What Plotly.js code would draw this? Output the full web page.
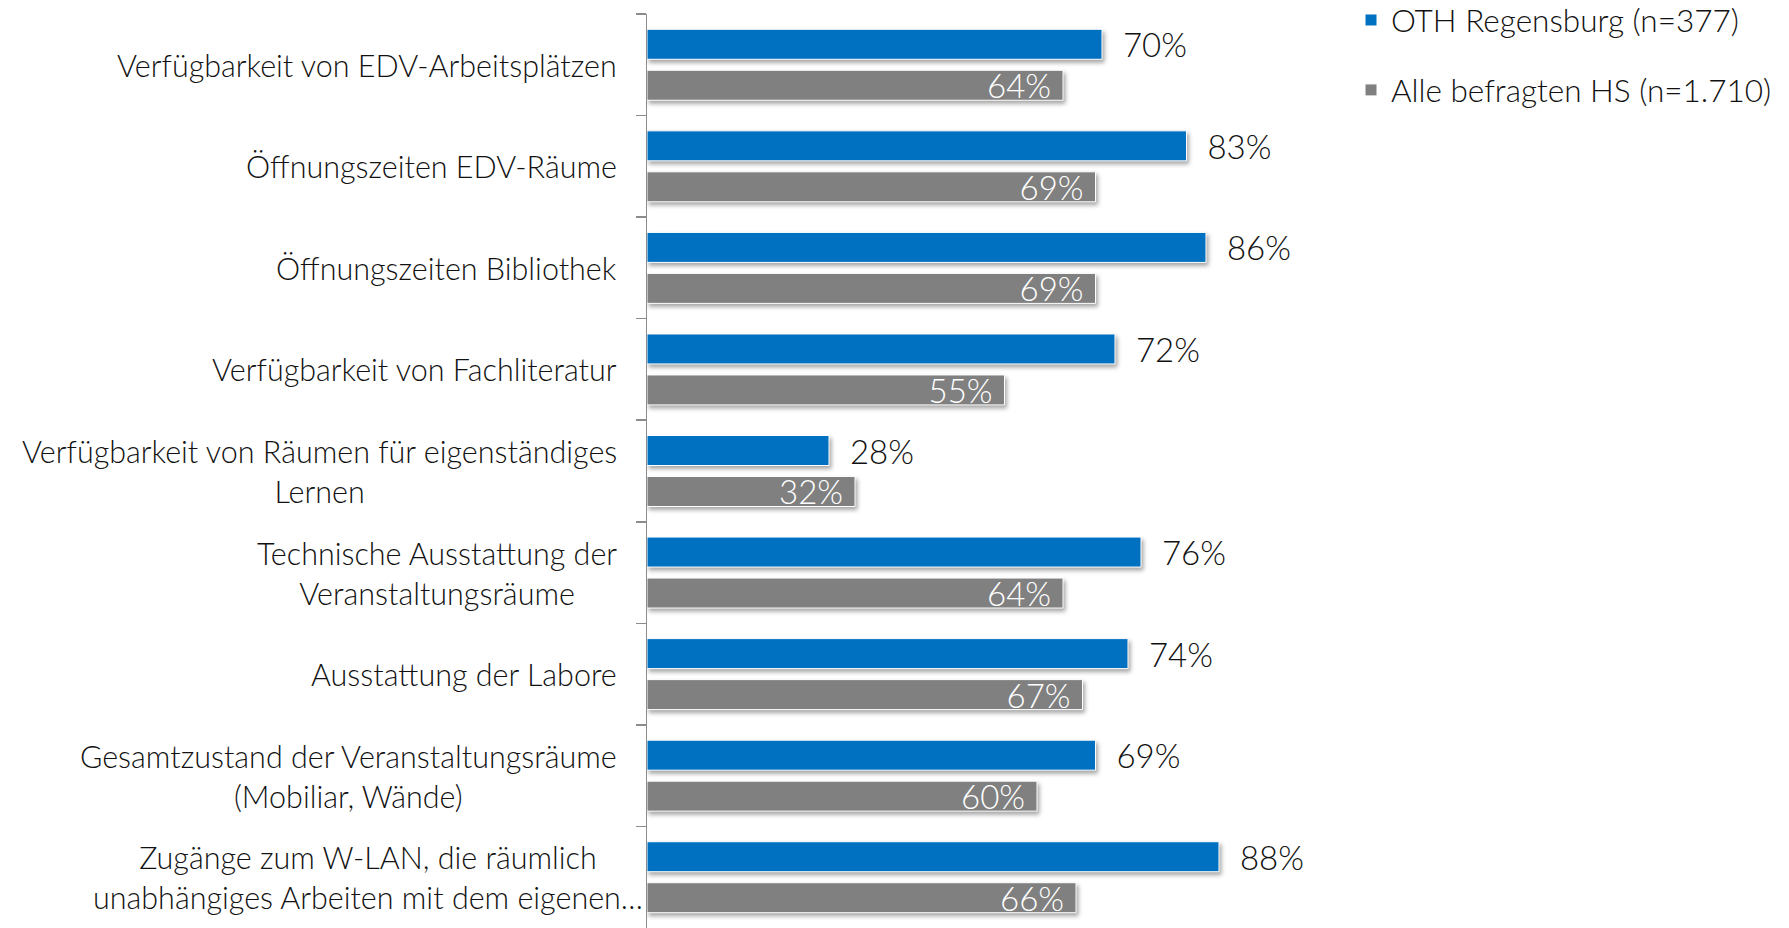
<!DOCTYPE html>
<html>
<head>
<meta charset="utf-8">
<script src="https://cdn.plot.ly/plotly-3.0.1.min.js"></script>
<style>
html,body{margin:0;padding:0;background:#fff;}
#chart{width:1789px;height:928px;}
#chart .bars path{filter:drop-shadow(2px 3px 2px rgba(0,0,0,0.35));}
#chart g.legend{translate:0 -7px;}
</style>
</head>
<body>
<div id="chart"></div>
<script>
const categories = [
  "Verfügbarkeit von EDV-Arbeitsplätzen",
  "Öffnungszeiten EDV-Räume",
  "Öffnungszeiten Bibliothek",
  "Verfügbarkeit von Fachliteratur",
  "Verfügbarkeit von Räumen für eigenständiges<br>Lernen",
  "Technische Ausstattung der<br>Veranstaltungsräume",
  "Ausstattung der Labore",
  "Gesamtzustand der Veranstaltungsräume<br>(Mobiliar, Wände)",
  "Zugänge zum W-LAN, die räumlich<br>unabhängiges Arbeiten mit dem eigenen…"
];
const othValues = [70, 83, 86, 72, 28, 76, 74, 69, 88];
const alleValues = [64, 69, 69, 55, 32, 64, 67, 60, 66];
const seriesNames = ["OTH Regensburg (n=377)", "Alle befragten HS (n=1.710)"];

const FONT = "Lato, 'Liberation Sans', sans-serif";
const NB = "\u00a0";

const traces = [
  {
    type: "bar", orientation: "h", name: seriesNames[0],
    x: othValues, y: categories,
    marker: {color: "#0070C0", line: {color: "#ffffff", width: 1}},
    texttemplate: NB + NB + "%{x}%", textposition: "outside",
    constraintext: "none",
    outsidetextfont: {color: "#111111", size: 33, family: FONT, weight: 300},
    cliponaxis: false, legendgroup: "a", hoverinfo: "skip"
  },
  {
    type: "bar", orientation: "h", name: seriesNames[1],
    x: alleValues, y: categories,
    marker: {color: "#808080", line: {color: "#ffffff", width: 1}},
    texttemplate: "%{x}%" + NB, textposition: "inside", insidetextanchor: "end",
    constraintext: "none",
    insidetextfont: {color: "#ffffff", size: 33, family: FONT, weight: 300},
    cliponaxis: false, legendgroup: "b", hoverinfo: "skip"
  }
];

const annotations = categories.map((c, i) => ({
  xref: "paper", x: 0, xanchor: "right", xshift: i === categories.length - 1 ? -2 : -28,
  yref: "y", y: c, yanchor: "middle",
  text: c, showarrow: false, align: "center",
  font: {size: 30.5, color: "#111111", family: FONT, weight: 300}
}));

const layout = {
  width: 1789, height: 928,
  margin: {l: 647, r: 492, t: 14, b: 0, pad: 0},
  paper_bgcolor: "#ffffff", plot_bgcolor: "#ffffff",
  font: {family: FONT, size: 30, color: "#111111", weight: 300},
  barmode: "group", bargap: 0.193, bargroupgap: 0.268,
  showlegend: true,
  legend: {
    xref: "container", yref: "container",
    x: 1351/1789, y: 1, xanchor: "left", yanchor: "top",
    font: {size: 31.5, color: "#111111", family: FONT, weight: 300},
    tracegroupgap: 26, traceorder: "grouped",
    bgcolor: "rgba(0,0,0,0)"
  },
  xaxis: {range: [0, 100], visible: false, fixedrange: true},
  yaxis: {
    type: "category", autorange: "reversed",
    showticklabels: false, showgrid: false, zeroline: false,
    showline: true, linecolor: "#8c8c8c", linewidth: 1.5,
    ticks: "outside", tickson: "boundaries", ticklen: 10, tickcolor: "#8c8c8c", tickwidth: 1.5
  },
  annotations: annotations
};

Plotly.newPlot("chart", traces, layout, {staticPlot: true, displayModeBar: false});
</script>
</body>
</html>
